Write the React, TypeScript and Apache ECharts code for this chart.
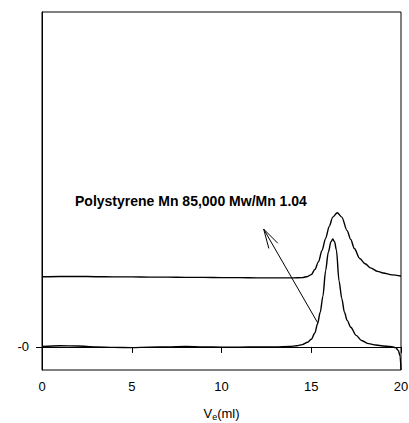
import React, { useEffect, useRef } from "react";
import * as echarts from "echarts";

// Elution volume (ml) and detector response (arbitrary units)
const lowerX = [0, 1, 2, 3, 4, 5, 6, 7, 8, 9, 10, 11, 12, 13, 13.8, 14.2, 14.5, 14.8, 15.0, 15.2, 15.35, 15.5, 15.65, 15.8, 15.95, 16.1, 16.2, 16.3, 16.4, 16.55, 16.7, 16.85, 17.0, 17.2, 17.5, 17.8, 18.2, 18.6, 19.0, 19.4, 19.7, 19.85, 19.95, 20.0];
const lowerY = [0.02, 0.05, 0.04, 0.0, -0.02, -0.03, -0.01, 0.0, 0.02, 0.0, -0.01, -0.01, 0.0, 0.0, 0.02, 0.05, 0.1, 0.2, 0.33, 0.6, 1.0, 1.5, 2.2, 3.3, 4.1, 4.55, 4.67, 4.55, 4.2, 2.85, 2.1, 1.5, 1.15, 0.85, 0.5, 0.28, 0.14, 0.08, 0.04, 0.02, -0.03, -0.15, -0.4, -1.0];

const upperX = [0, 1, 2, 3, 4, 5, 6, 7, 8, 9, 10, 11, 12, 13, 14, 14.5, 14.8, 15.0, 15.2, 15.4, 15.6, 15.8, 16.0, 16.2, 16.45, 16.7, 17.0, 17.2, 17.4, 17.7, 18.0, 18.3, 18.7, 19.0, 19.5, 20.0];
const upperY = [3.04, 3.05, 3.05, 3.04, 3.03, 3.03, 3.02, 3.02, 3.01, 3.01, 3.0, 3.0, 2.99, 2.99, 2.99, 3.0, 3.05, 3.13, 3.35, 3.68, 4.18, 4.7, 5.22, 5.62, 5.81, 5.62, 5.03, 4.65, 4.26, 3.83, 3.6, 3.42, 3.27, 3.2, 3.12, 3.07];

const xTicks = [0, 5, 10, 15, 20];
const yTicks = [0];
const yTickLabels = ["-0"];

// Arrow annotation: tail (x, y) -> head (x, y)
const arrowTail = [15.36, 1.04];
const arrowHead = [12.35, 5.1];
const annotation = "Polystyrene Mn 85,000 Mw/Mn 1.04";

const FONT = "Arial, 'Liberation Sans', Helvetica, sans-serif";

export default function App() {
  const ref = useRef<HTMLDivElement>(null);
  useEffect(() => {
    if (!ref.current) return;
    const chart = echarts.init(ref.current, null, { renderer: "svg" });
    const lower = lowerX.map((x, i) => [x, lowerY[i]]);
    const upper = upperX.map((x, i) => [x, upperY[i]]);
    chart.setOption({
      animation: false,
      backgroundColor: "#fff",
      grid: {
        left: 42,
        right: 8,
        top: 12,
        bottom: 53,
        outerBoundsMode: "none",
        containLabel: false,
        show: true,
        borderColor: "#000",
        borderWidth: 1,
      },
      xAxis: {
        type: "value",
        min: 0,
        max: 20,
        interval: 5,
        splitLine: { show: false },
        axisLine: { show: true, lineStyle: { color: "#000", width: 1 } },
        axisTick: { show: true, length: 6, lineStyle: { color: "#000" }, customValues: xTicks },
        axisLabel: { color: "#000", fontSize: 13, fontFamily: FONT, margin: 10, customValues: xTicks },
        name: "V{sub|e}(ml)",
        nameLocation: "middle",
        nameGap: 35,
        nameTextStyle: {
          color: "#000",
          fontSize: 13,
          fontFamily: FONT,
          rich: {
            sub: { fontSize: 9, fontFamily: FONT, color: "#000", verticalAlign: "bottom", padding: [7, 0, 0, 0] },
          },
        },
      },
      yAxis: {
        type: "value",
        min: -1,
        max: 14.5,
        splitLine: { show: false },
        axisLine: { show: true, lineStyle: { color: "#000", width: 1 } },
        axisTick: { show: true, length: 6, lineStyle: { color: "#000" }, customValues: yTicks },
        axisLabel: {
          color: "#000",
          fontSize: 13,
          fontFamily: FONT,
          margin: 13,
          customValues: yTicks,
          formatter: (v: number) => {
            const i = yTicks.indexOf(v);
            return i >= 0 ? yTickLabels[i] : "";
          },
        },
      },
      series: [
        {
          type: "line",
          data: lower,
          showSymbol: false,
          smooth: 0.3,
          smoothMonotone: "x",
          lineStyle: { color: "#000", width: 1.4 },
          silent: true,
        },
        {
          type: "line",
          data: upper,
          showSymbol: false,
          smooth: 0.3,
          smoothMonotone: "x",
          lineStyle: { color: "#000", width: 1.4 },
          silent: true,
        },
        {
          type: "custom",
          silent: true,
          data: [[arrowTail[0], arrowTail[1], arrowHead[0], arrowHead[1]]],
          encode: { x: [0, 2], y: [1, 3] },
          renderItem: (_params: any, api: any) => {
            const p1 = api.coord([api.value(0), api.value(1)]);
            const p2 = api.coord([api.value(2), api.value(3)]);
            const ang = Math.atan2(p1[1] - p2[1], p1[0] - p2[0]);
            const len = 20;
            const spread = (15 * Math.PI) / 180;
            const b1 = [p2[0] + len * Math.cos(ang + spread), p2[1] + len * Math.sin(ang + spread)];
            const b2 = [p2[0] + len * Math.cos(ang - spread), p2[1] + len * Math.sin(ang - spread)];
            return {
              type: "group",
              children: [
                {
                  type: "line",
                  shape: { x1: p1[0], y1: p1[1], x2: p2[0], y2: p2[1] },
                  style: { stroke: "#000", lineWidth: 1 },
                },
                {
                  type: "polyline",
                  shape: { points: [b1, p2, b2] },
                  style: { stroke: "#000", fill: null, lineWidth: 1 },
                },
              ],
            };
          },
        },
      ],
      graphic: [
        {
          type: "text",
          left: 75,
          top: 194,
          style: {
            text: annotation,
            font: `bold 14px ${FONT}`,
            fill: "#000",
          },
        },
      ],
    });
    return () => chart.dispose();
  }, []);
  return (
    <div
      ref={ref}
      style={{ position: "fixed", left: 0, top: 0, width: 409, height: 423, background: "#fff" }}
    />
  );
}
